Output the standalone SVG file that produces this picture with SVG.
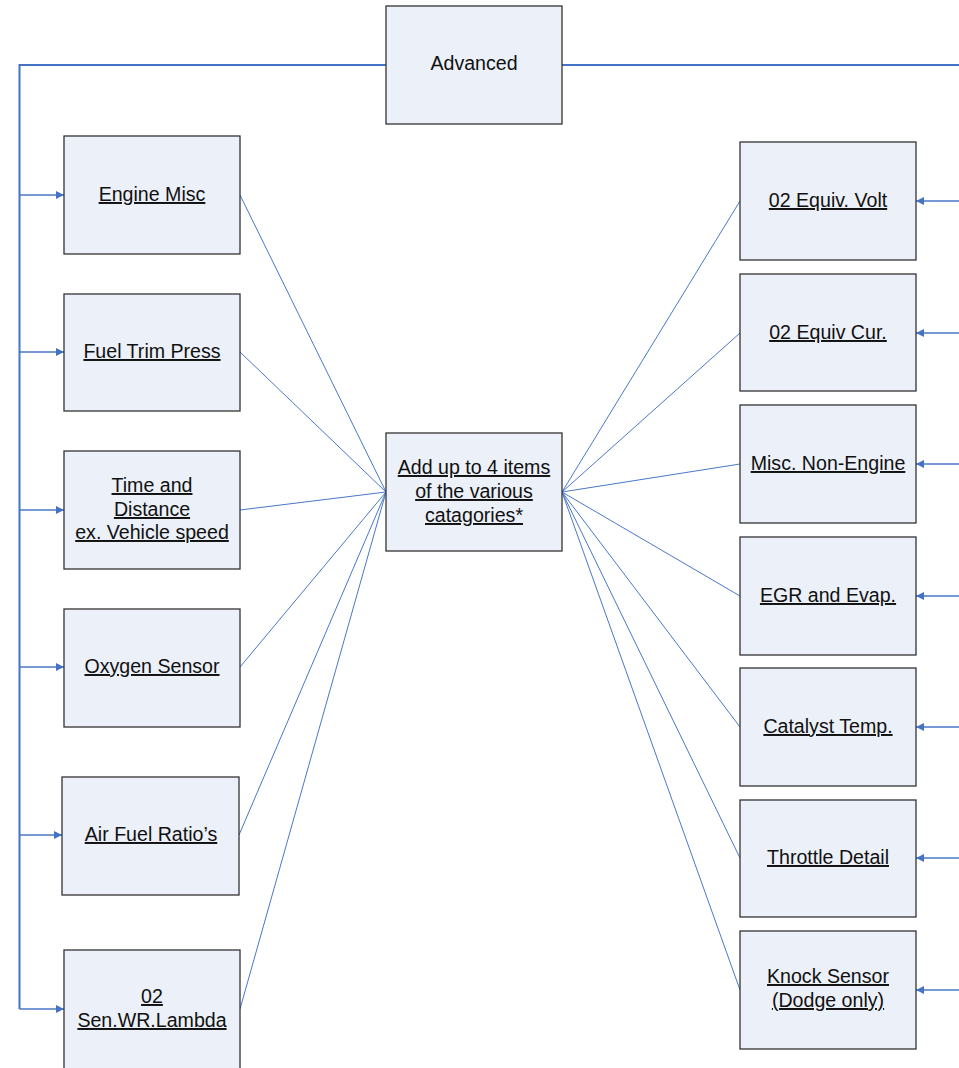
<svg xmlns="http://www.w3.org/2000/svg" width="959" height="1068" viewBox="0 0 959 1068">
  <style>
    .box { fill: #ECF0F8; stroke: #333333; stroke-width: 1.3; }
    .lbl { font-family: "Liberation Sans", Arial, sans-serif; font-size: 19.6px; fill: #111; text-anchor: middle; text-decoration: underline; }
    .plain { text-decoration: none; }
    .trunk { stroke: #4472C4; stroke-width: 2; fill: none; }
    .branch { stroke: #4a78c8; stroke-width: 1.5; fill: none; marker-end: url(#arr); }
    .spoke { stroke: #4a78c8; stroke-width: 1; fill: none; }
  </style>
  <defs>
    <marker id="arr" viewBox="0 0 10 10" refX="10" refY="5" markerWidth="10" markerHeight="8" markerUnits="userSpaceOnUse" orient="auto">
      <path d="M0,0 L10,5 L0,10 Z" fill="#4472C4"/>
    </marker>
  </defs>
  <rect width="959" height="1068" fill="#ffffff"/>

  <g id="connectors">
    <!-- main trunk from the top node -->
    <path class="trunk" d="M386,65 H19.5 V1009"/>
    <path class="trunk" d="M562,65 H959"/>
    <!-- branches into left column -->
    <path class="branch" d="M19.5,195 H64"/>
    <path class="branch" d="M19.5,352 H64"/>
    <path class="branch" d="M19.5,510 H64"/>
    <path class="branch" d="M19.5,667 H64"/>
    <path class="branch" d="M19.5,835 H62"/>
    <path class="branch" d="M19.5,1009 H64"/>
    <!-- branches into right column -->
    <path class="branch" d="M959,201 H916"/>
    <path class="branch" d="M959,333 H916"/>
    <path class="branch" d="M959,464 H916"/>
    <path class="branch" d="M959,596 H916"/>
    <path class="branch" d="M959,727 H916"/>
    <path class="branch" d="M959,858 H916"/>
    <path class="branch" d="M959,990 H916"/>
    <!-- spokes to the centre node -->
    <path class="spoke" d="M240,195 L386,492"/>
    <path class="spoke" d="M240,352 L386,492"/>
    <path class="spoke" d="M240,510 L386,492"/>
    <path class="spoke" d="M240,667 L386,492"/>
    <path class="spoke" d="M239,835 L386,492"/>
    <path class="spoke" d="M240,1009 L386,492"/>
    <path class="spoke" d="M562,492 L740,201"/>
    <path class="spoke" d="M562,492 L740,333"/>
    <path class="spoke" d="M562,492 L740,464"/>
    <path class="spoke" d="M562,492 L740,596"/>
    <path class="spoke" d="M562,492 L740,727"/>
    <path class="spoke" d="M562,492 L740,858"/>
    <path class="spoke" d="M562,492 L740,990"/>
  </g>

  <g id="advanced">
    <rect class="box" x="386" y="6" width="176" height="118"/>
    <text class="lbl plain" x="474" y="70">Advanced</text>
  </g>

  <g id="centre">
    <rect class="box" x="386" y="433" width="176" height="118"/>
    <text class="lbl" x="474" y="474">Add up to 4 items</text>
    <text class="lbl" x="474" y="498">of the various</text>
    <text class="lbl" x="474" y="522">catagories*</text>
  </g>

  <g id="engine-misc">
    <rect class="box" x="64" y="136" width="176" height="118"/>
    <text class="lbl" x="152" y="201">Engine Misc</text>
  </g>
  <g id="fuel-trim">
    <rect class="box" x="64" y="294" width="176" height="117"/>
    <text class="lbl" x="152" y="358">Fuel Trim Press</text>
  </g>
  <g id="time-distance">
    <rect class="box" x="64" y="451" width="176" height="118"/>
    <text class="lbl" x="152" y="492">Time and</text>
    <text class="lbl" x="152" y="516">Distance</text>
    <text class="lbl" x="152" y="539">ex. Vehicle speed</text>
  </g>
  <g id="oxygen-sensor">
    <rect class="box" x="64" y="609" width="176" height="118"/>
    <text class="lbl" x="152" y="673">Oxygen Sensor</text>
  </g>
  <g id="air-fuel">
    <rect class="box" x="62" y="777" width="177" height="118"/>
    <text class="lbl" x="151" y="841">Air Fuel Ratio’s</text>
  </g>
  <g id="o2-lambda">
    <rect class="box" x="64" y="950" width="176" height="130"/>
    <text class="lbl" x="152" y="1003">02</text>
    <text class="lbl" x="152" y="1027">Sen.WR.Lambda</text>
  </g>

  <g id="o2-volt">
    <rect class="box" x="740" y="142" width="176" height="118"/>
    <text class="lbl" x="828" y="207">02 Equiv. Volt</text>
  </g>
  <g id="o2-cur">
    <rect class="box" x="740" y="274" width="176" height="117"/>
    <text class="lbl" x="828" y="339">02 Equiv Cur.</text>
  </g>
  <g id="misc-non-engine">
    <rect class="box" x="740" y="405" width="176" height="118"/>
    <text class="lbl" x="828" y="470">Misc. Non-Engine</text>
  </g>
  <g id="egr-evap">
    <rect class="box" x="740" y="537" width="176" height="118"/>
    <text class="lbl" x="828" y="602">EGR and Evap.</text>
  </g>
  <g id="catalyst-temp">
    <rect class="box" x="740" y="668" width="176" height="118"/>
    <text class="lbl" x="828" y="733">Catalyst Temp.</text>
  </g>
  <g id="throttle-detail">
    <rect class="box" x="740" y="800" width="176" height="117"/>
    <text class="lbl" x="828" y="864">Throttle Detail</text>
  </g>
  <g id="knock-sensor">
    <rect class="box" x="740" y="931" width="176" height="118"/>
    <text class="lbl" x="828" y="983">Knock Sensor</text>
    <text class="lbl" x="828" y="1007">(Dodge only)</text>
  </g>
</svg>
